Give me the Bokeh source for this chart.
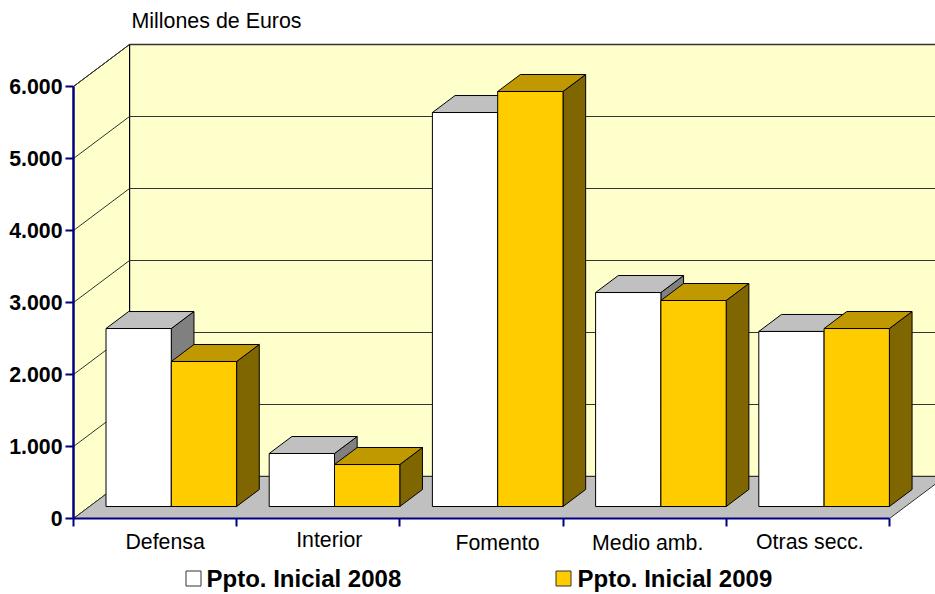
from bokeh.plotting import figure
from bokeh.models import Range1d, LinearAxis, FixedTicker
from bokeh.core.properties import value
from bokeh.embed import file_html
from bokeh.resources import INLINE

categories = ["Defensa", "Interior", "Fomento", "Medio amb.", "Otras secc."]
series_names = ["Ppto. Inicial 2008", "Ppto. Inicial 2009"]
ppto_2008 = [2472, 736, 5472, 2972, 2431]
ppto_2009 = [2014, 583, 5764, 2861, 2472]
y_ticks = [0, 1000, 2000, 3000, 4000, 5000, 6000]
y_tick_labels = ["0", "1.000", "2.000", "3.000", "4.000", "5.000", "6.000"]
axis_title = "Millones de Euros"

# layout (one category = 163.2 px, 1000 euros = 72 px)
W, H = 935, 594
PX_X, PX_Y = 163.2, 0.072
X0_PX, Y0_PX = 73, 518      # axis origin inside the canvas
DX, DY = 56 / PX_X, 42 / PX_Y   # full depth of the box as an offset in data units
BAR_D0, BAR_D1 = 12 / 42, 29 / 42
BAR_GAP, BAR_W = 16.5 / PX_X, 65.3 / PX_X
label_dx = [10, 11, 16, 3, 2]
label_dy = [0, -2, 1, 1, 0]

def xd(px):
    return (px - X0_PX) / PX_X

def yd(py):
    return (Y0_PX - py) / PX_Y

def proj(x, v, d):
    return x + d * DX, v + d * DY

def poly(points):
    pts = [proj(*q) for q in points]
    return [a for a, _ in pts], [b for _, b in pts]

p = figure(width=W, height=H, output_backend="svg", toolbar_location=None,
           x_axis_type=None, y_axis_type=None,
           x_range=Range1d(-X0_PX / PX_X, (W - X0_PX) / PX_X),
           y_range=Range1d(-(H - Y0_PX) / PX_Y, Y0_PX / PX_Y),
           min_border=0, outline_line_color=None, background_fill_color="white")
p.grid.visible = False

n = len(categories)
top = y_ticks[-1]
box = dict(line_color="black", line_width=1)

# walls and floor
bx, by = poly([(0, 0, 1), (n, 0, 1), (n, top, 1), (0, top, 1)])
p.patch(bx, by, fill_color="#FFFFCC", line_color="#333333", line_width=1.5)
lx, ly = poly([(0, 0, 0), (0, 0, 1), (0, top, 1), (0, top, 0)])
p.patch(lx, ly, fill_color="#FFFFCC", **box)
fx, fy = poly([(0, 0, 0), (n, 0, 0), (n, 0, 1), (0, 0, 1)])
p.patch(fx, fy, fill_color="#C0C0C0", line_color="#333333", line_width=1)

# gridlines on both walls
for t in y_ticks[1:]:
    gx, gy = poly([(0, t, 0), (0, t, 1), (n, t, 1)])
    p.line(gx, gy, line_color="#333333", line_width=1)

# 3-D bars
colors = [("#FFFFFF", "#C0C0C0", "#808080"), ("#FFCC00", "#C09900", "#806600")]
for i in range(n):
    for s, vals in enumerate([ppto_2008, ppto_2009]):
        x0 = i + BAR_GAP + s * BAR_W
        x1 = x0 + BAR_W
        v = vals[i]
        front, tp, side = colors[s]
        a, b = poly([(x1, 0, BAR_D0), (x1, 0, BAR_D1), (x1, v, BAR_D1), (x1, v, BAR_D0)])
        p.patch(a, b, fill_color=side, **box)
        a, b = poly([(x0, v, BAR_D0), (x1, v, BAR_D0), (x1, v, BAR_D1), (x0, v, BAR_D1)])
        p.patch(a, b, fill_color=tp, **box)
        a, b = poly([(x0, 0, BAR_D0), (x1, 0, BAR_D0), (x1, v, BAR_D0), (x0, v, BAR_D0)])
        p.patch(a, b, fill_color=front, **box)

# axes
yax = LinearAxis(fixed_location=0, bounds=(0, top), ticker=FixedTicker(ticks=y_ticks),
                 major_label_overrides=dict(zip(y_ticks, y_tick_labels)),
                 axis_line_color="#000080", axis_line_width=2.5,
                 major_tick_line_color="#000080", major_tick_line_width=2,
                 major_tick_in=0, major_tick_out=8, minor_tick_line_color=None,
                 major_label_standoff=3, major_label_text_font="Liberation Sans",
                 major_label_text_font_size="21.3px", major_label_text_font_style="bold",
                 major_label_text_color="black", level="overlay")
p.add_layout(yax, "left")
xax = LinearAxis(fixed_location=0, bounds=(0, n), ticker=FixedTicker(ticks=list(range(n + 1))),
                 major_label_text_font_size="0px", major_label_text_color=None,
                 axis_line_color="#000080", axis_line_width=2,
                 major_tick_line_color="#000080", major_tick_line_width=2,
                 major_tick_in=0, major_tick_out=8, minor_tick_line_color=None, level="overlay")
p.add_layout(xax, "below")

# category labels
p.text(x=[i + 0.5 for i in range(n)], y=[0] * n, text=categories,
       x_offset=label_dx, y_offset=[23 + d for d in label_dy],
       text_font=value("Liberation Sans"), text_font_size="21.3px",
       text_align="center", text_baseline="middle", text_color="black")

# axis title
p.text(x=[xd(131)], y=[yd(20)], text=[axis_title], text_font=value("Liberation Sans"),
       text_font_size="21.4px", text_align="left", text_baseline="middle", text_color="black")

# legend
leg_y = yd(578)
p.scatter(x=[xd(193), xd(563)], y=[leg_y] * 2, marker="square", size=15,
          fill_color=[colors[0][0], colors[1][0]], line_color="#333333", line_width=1)
p.text(x=[xd(206), xd(577)], y=[leg_y] * 2, text=series_names, text_font=value("Liberation Sans"),
       text_font_size="24px", text_font_style="bold", text_align="left",
       text_baseline="middle", text_color="black")

open("out.html", "w").write(file_html(p, INLINE))
